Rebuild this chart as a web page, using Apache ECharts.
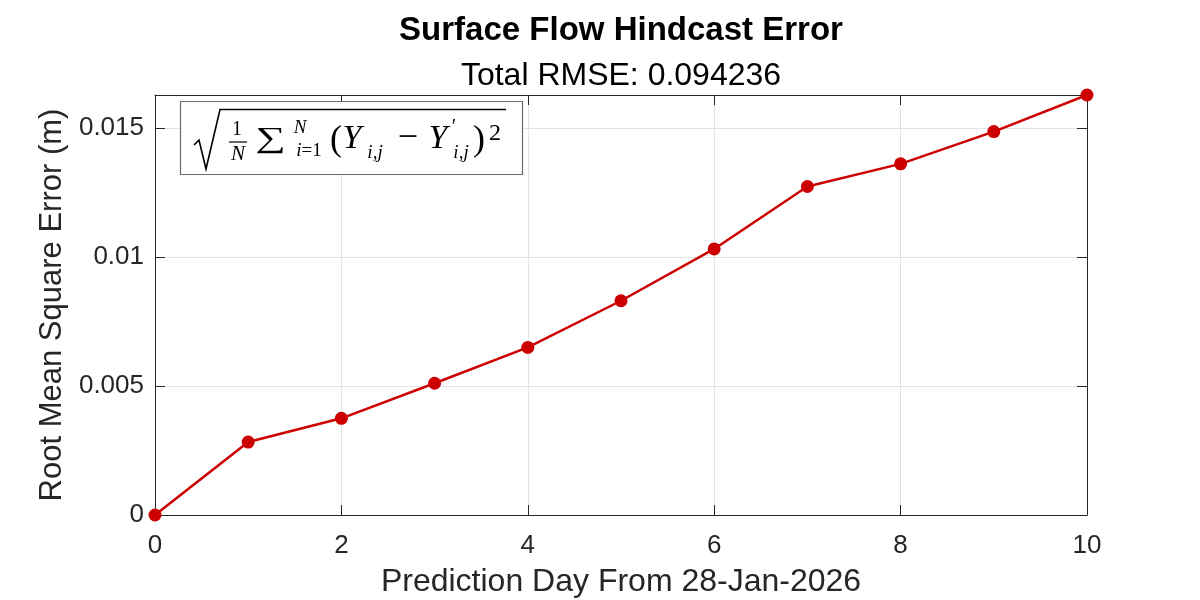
<!DOCTYPE html>
<html>
<head>
<meta charset="utf-8">
<script src="https://cdn.jsdelivr.net/npm/echarts@6/dist/echarts.min.js"></script>
<style>html,body{margin:0;padding:0;background:#fff}#c{width:1200px;height:600px}</style>
</head>
<body>
<div id="c"></div>
<script>
const days = [0, 1, 2, 3, 4, 5, 6, 7, 8, 9, 10];
const rmse = [0, 0.00283, 0.00375, 0.00511, 0.00650, 0.00831, 0.01032, 0.01274, 0.01362, 0.01487, 0.01629];
const xTicks = [0, 2, 4, 6, 8, 10];
const yTicks = [0, 0.005, 0.01, 0.015];
const titleText = 'Surface Flow Hindcast Error';
const subtitleText = 'Total RMSE: 0.094236';
const xName = 'Prediction Day From 28-Jan-2026';
const yName = 'Root Mean Square Error (m)';

const font = '"Liberation Sans", Arial, Helvetica, sans-serif';
const serif = '"Liberation Serif", "DejaVu Serif", serif';
const axisColor = '#262626';
const gridColor = '#e3e3e3';
const red = '#cc0000';

const chart = echarts.init(document.getElementById('c'), null, {renderer: 'canvas'});
const yMax = Math.max(...rmse);
const xMin = xTicks[0], xMax = xTicks[xTicks.length - 1];

function baseX(extra) {
  return Object.assign({
    type: 'value', min: xMin, max: xMax, interval: xTicks[1] - xTicks[0],
    axisLine: {show: true, onZero: false, lineStyle: {color: axisColor, width: 1}},
    axisTick: {show: true, inside: true, length: 10, lineStyle: {color: axisColor}},
    splitLine: {show: false}
  }, extra);
}
function baseY(extra) {
  return Object.assign({
    type: 'value', min: 0, max: yMax, interval: yTicks[1] - yTicks[0],
    axisLine: {show: true, onZero: false, lineStyle: {color: axisColor, width: 1}},
    axisTick: {show: true, inside: true, length: 10, lineStyle: {color: axisColor}},
    splitLine: {show: false}
  }, extra);
}

function t(text, x, y, size, opts, extra) {
  return Object.assign({type: 'text', x: x, y: y, z: 100, silent: true,
    style: Object.assign({text: text, font: size + 'px ' + serif, fill: '#000', align: 'center', verticalAlign: 'middle'}, opts || {})}, extra || {});
}

const option = {
  animation: false,
  backgroundColor: '#fff',
  grid: {left: 155, right: 113, top: 95, bottom: 85, containLabel: false, outerBoundsMode: 'none'},
  xAxis: [
    baseX({
      position: 'bottom',
      name: xName, nameLocation: 'middle', nameGap: 51,
      nameTextStyle: {fontFamily: font, fontSize: 32, color: axisColor},
      axisLabel: {show: true, margin: 18, fontFamily: font, fontSize: 26, color: axisColor,
        formatter: v => String(v)},
      splitLine: {show: true, lineStyle: {color: gridColor, width: 1}}
    }),
    baseX({position: 'top', axisLabel: {show: false}})
  ],
  yAxis: [
    baseY({
      position: 'left',
      name: yName, nameLocation: 'middle', nameGap: 84,
      nameTextStyle: {fontFamily: font, fontSize: 31, color: axisColor},
      axisLabel: {show: true, margin: 11, fontFamily: font, fontSize: 26, color: axisColor,
        showMaxLabel: false,
        formatter: v => yTicks.some(k => Math.abs(k - v) < 1e-9) ? String(+v.toFixed(4)) : ''},
      splitLine: {show: true, showMaxLine: false, lineStyle: {color: gridColor, width: 1}}
    }),
    baseY({position: 'right', axisLabel: {show: false}})
  ],
  series: [{
    type: 'line',
    data: days.map((d, i) => [d, rmse[i]]),
    clip: false,
    symbol: 'circle', symbolSize: 13,
    lineStyle: {color: red, width: 2.5},
    itemStyle: {color: red},
    z: 10
  }],
  graphic: [
    {type: 'text', x: 621, y: 31, style: {text: titleText, font: 'bold 33px ' + font, fill: '#000', align: 'center', verticalAlign: 'middle'}},
    {type: 'text', x: 621, y: 76, style: {text: subtitleText, font: '32px ' + font, fill: '#000', align: 'center', verticalAlign: 'middle'}},
    {type: 'rect', z: 90, shape: {x: 180.5, y: 101.5, width: 342, height: 73}, style: {fill: '#fff', stroke: '#6b6b6b', lineWidth: 1.2}},
    {type: 'polyline', z: 100, shape: {points: [[194, 145], [199, 140], [206, 169], [220, 109.5], [506, 109.5]]}, style: {fill: null, stroke: '#000', lineWidth: 1.6}},
    t('1', 237, 130, 20),
    {type: 'line', z: 100, shape: {x1: 229, y1: 142, x2: 247, y2: 142}, style: {stroke: '#000', lineWidth: 1.2}},
    t('N', 238, 154, 21, {font: 'italic 21px ' + serif}),
    t('\u2211', 271, 139, 34, null, {scaleX: 1.25, scaleY: 0.85}),
    t('N', 300, 128, 19, {font: 'italic 19px ' + serif}),
    t('{i|i}{r|=1}', 309, 151, 19, {rich: {i: {font: 'italic 19px ' + serif}, r: {font: '19px ' + serif}}}),
    t('(', 336, 141, 36),
    t('Y', 352, 139, 34, {font: 'italic 34px ' + serif}),
    t('i,j', 375, 153, 19, {font: 'italic 19px ' + serif}),
    t('\u2212', 408, 139, 36),
    t('Y', 438, 139, 34, {font: 'italic 34px ' + serif}),
    t('\u2032', 454, 128, 20),
    t('i,j', 461, 153, 19, {font: 'italic 19px ' + serif}),
    t(')', 479, 141, 36),
    t('2', 495, 134, 24)
  ]
};
chart.setOption(option);
</script>
</body>
</html>
